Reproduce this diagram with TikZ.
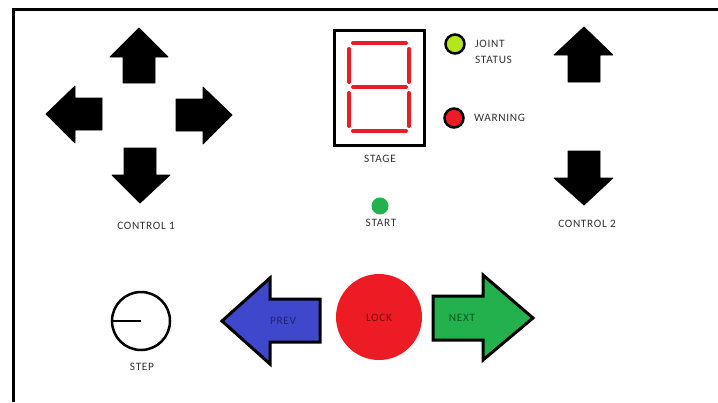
\documentclass[tikz,border=0pt]{standalone}
\usepackage{fontspec}
\setmainfont{Carlito}[LetterSpace=6]
\definecolor{labelgray}{RGB}{50,50,50}
\definecolor{segred}{RGB}{237,28,36}
\definecolor{ledyellow}{RGB}{181,230,29}
\definecolor{ledgreen}{RGB}{34,177,76}
\definecolor{prevblue}{RGB}{63,72,204}
\definecolor{nextgreen}{RGB}{34,177,76}
\begin{document}
\begin{tikzpicture}[x=1pt,y=-1pt,
  lbl/.style={font=\fontsize{11.3}{13}\selectfont, text=labelgray, inner sep=0pt},
  blk/.style={fill=black, draw=black, line width=0.8pt, line join=round},
  seg/.style={draw=segred, line width=4pt, line cap=round},
  led/.style={circle, draw=black, line width=2.5pt, minimum size=19pt, inner sep=0pt},
  bigarrow/.style={draw=black, line width=3pt, line join=miter}]
\useasboundingbox (0,0) rectangle (718,402);
\fill[white] (0,0) rectangle (718,402);
% frame
\draw[line width=3pt] (13.5,402) -- (13.5,9.5) -- (718,9.5);
% control 1 arrows
\draw[blk] (123,83) -- (123,57) -- (110,57) -- (139,28) -- (168,57) -- (155,57) -- (155,83) -- cycle;
\draw[blk] (102,98) -- (75,98) -- (75,86) -- (46,114) -- (75,143) -- (75,130) -- (102,130) -- cycle;
\draw[blk] (176,99) -- (203,99) -- (203,87) -- (232,115) -- (203,144) -- (203,131) -- (176,131) -- cycle;
\draw[blk] (124,148) -- (156,148) -- (156,175) -- (170,175) -- (140,203) -- (112,175) -- (124,175) -- cycle;
\node[lbl] (c1) at (146,226) {CONTROL 1};
% control 2 arrows
\draw[blk] (568,82) -- (568,55) -- (554,55) -- (584,27) -- (613,55) -- (600,55) -- (600,82) -- cycle;
\draw[blk] (568,151) -- (600,151) -- (600,178) -- (613,178) -- (584,205) -- (554,178) -- (568,178) -- cycle;
\node[lbl] (c2) at (587,224) {CONTROL 2};
% seven segment display
\node[draw=black, line width=3pt, minimum width=90pt, minimum height=115pt, inner sep=0pt] (disp) at (379.5,88) {};
\draw[seg] (353,43) -- (406,43);
\draw[seg] (353,87) -- (406,87);
\draw[seg] (353,131) -- (406,131);
\draw[seg] (349,49) -- (349,82);
\draw[seg] (349,93) -- (349,126);
\draw[seg] (409,49) -- (409,82);
\draw[seg] (409,93) -- (409,126);
\node[lbl] (stage) at (380,159) {STAGE};
% LEDs
\node[led, fill=ledyellow] (joint) at (455,44) {};
\node[lbl, anchor=west, align=left] (jointlbl) at (475,52) {JOINT\\[3pt]STATUS};
\node[led, fill=segred] (warn) at (454,118) {};
\node[lbl, anchor=west] (warnlbl) at (474,118) {WARNING};
\node[circle, fill=ledgreen, minimum size=17pt, inner sep=0pt] (startled) at (380,206) {};
\node[lbl] (startlbl) at (381,223) {START};
% step knob
\node[circle, draw=black, line width=2.5pt, minimum size=58pt, inner sep=0pt] (step) at (141,321) {};
\draw[line width=2.5pt] (step.west) -- (step.center);
\node[lbl] (steplbl) at (142,367) {STEP};
% prev arrow
\draw[bigarrow, fill=prevblue] (320,299) -- (270,299) -- (270,278) -- (222,321) -- (270,364) -- (270,342) -- (320,342) -- cycle;
\node[lbl, text={rgb,255:red,30;green,35;blue,110}] (prev) at (283,321) {PREV};
% lock
\node[circle, fill=segred, minimum size=86pt, inner sep=0pt] (lock) at (379,317) {};
\node[lbl, text={rgb,255:red,110;green,15;blue,20}] (locklbl) at (379,318) {LOCK};
% next arrow
\draw[bigarrow, fill=nextgreen] (433,296) -- (483,296) -- (483,275) -- (533,318) -- (483,360) -- (483,340) -- (433,340) -- cycle;
\node[lbl, text={rgb,255:red,15;green,85;blue,35}] (next) at (462,318) {NEXT};
\end{tikzpicture}
\end{document}
